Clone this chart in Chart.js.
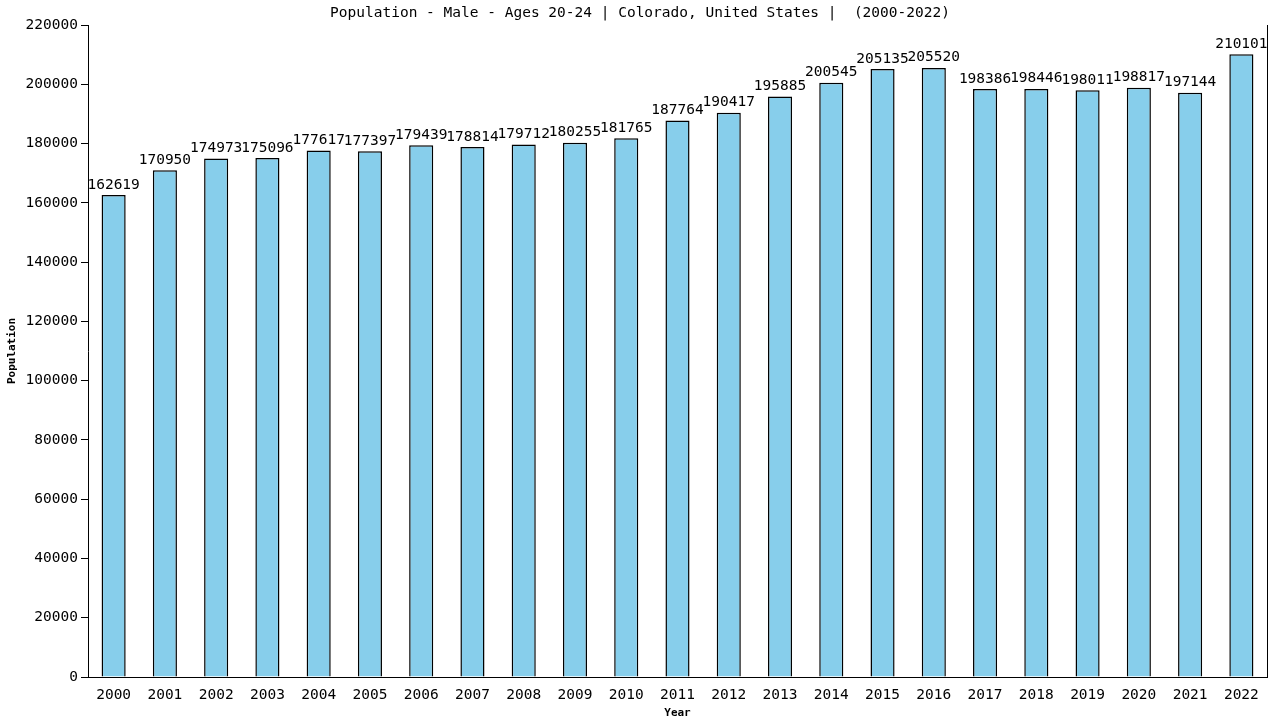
<!DOCTYPE html>
<html>
<head>
<meta charset="utf-8">
<script src="https://cdn.jsdelivr.net/npm/chart.js@4"></script>
<style>
  body { margin: 0; background: #fff; }
  #wrap { width: 1280px; height: 720px; }
</style>
</head>
<body>
<div id="wrap"><canvas id="myChart"></canvas></div>
<script>
const years = ["2000", "2001", "2002", "2003", "2004", "2005", "2006", "2007", "2008", "2009", "2010", "2011",
    "2012", "2013", "2014", "2015", "2016", "2017", "2018", "2019", "2020", "2021", "2022"];
const population = [162619, 170950, 174973, 175096, 177617, 177397, 179439, 178814, 179712, 180255, 181765, 187764,
    190417, 195885, 200545, 205135, 205520, 198386, 198446, 198011, 198817, 197144, 210101];
const titleText = "Population - Male - Ages 20-24 | Colorado, United States |  (2000-2022)";
const monoFont = "'DejaVu Sans Mono', monospace";

// labels over bars, title and the right border line
const extras = {
    id: "extras",
    afterDatasetsDraw(chart) {
        const ctx = chart.ctx;
        const area = chart.chartArea;
        ctx.save();
        ctx.fillStyle = "#000";
        ctx.font = "14.5px " + monoFont;
        ctx.textAlign = "center";
        ctx.textBaseline = "bottom";
        chart.getDatasetMeta(0).data.forEach((bar, i) => {
            ctx.fillText(String(population[i]), bar.x, bar.y - 3);
        });
        ctx.textBaseline = "middle";
        ctx.fillText(titleText, 640, 13);

        ctx.strokeStyle = "#000";
        ctx.lineWidth = 1;
        ctx.beginPath();
        ctx.moveTo(area.right + 0.5, area.top);
        ctx.lineTo(area.right + 0.5, area.bottom);
        ctx.stroke();
        ctx.restore();
    },
};

const ctx = document.getElementById("myChart").getContext("2d");
const myChart = new Chart(ctx, {
    type: "bar",
    data: {
        labels: years,
        datasets: [
            {
                label: "Population",
                data: population,
                backgroundColor: "#87CEEB",
                borderColor: "#000",
                borderWidth: 1.5,
                barPercentage: 0.47,
                categoryPercentage: 1,
            },
        ],
    },
    options: {
        responsive: true,
        maintainAspectRatio: false,
        animation: false,
        layout: {
            padding: { top: 25, right: 13, left: 6, bottom: 0 },
        },
        plugins: {
            legend: { display: false },
            title: { display: false },
            tooltip: { enabled: false },
        },
        scales: {
            x: {
                grid: { display: false, drawOnChartArea: false },
                border: { color: "#000" },
                ticks: {
                    color: "#000",
                    font: { family: monoFont, size: 14.5 },
                    maxRotation: 0,
                    autoSkip: false,
                    padding: 2,
                },
                title: {
                    display: true,
                    text: "Year",
                    color: "#000",
                    font: { family: monoFont, size: 11, weight: "bold" },
                    padding: { top: 2, bottom: 0 },
                },
                afterFit(scale) {
                    scale.height = 43;
                },
            },
            y: {
                min: 0,
                max: 220000,
                grid: { drawOnChartArea: false, color: "#000", tickLength: 7 },
                border: { color: "#000" },
                ticks: {
                    stepSize: 20000,
                    color: "#000",
                    font: { family: monoFont, size: 14.5 },
                    padding: 3,
                    callback: (v) => String(v),
                },
                title: {
                    display: true,
                    text: "Population",
                    color: "#000",
                    font: { family: monoFont, size: 11, weight: "bold" },
                    padding: { top: 0, bottom: 2 },
                },
                afterFit(scale) {
                    scale.width = 82;
                },
            },
        },
    },
    plugins: [extras],
});
</script>
</body>
</html>
